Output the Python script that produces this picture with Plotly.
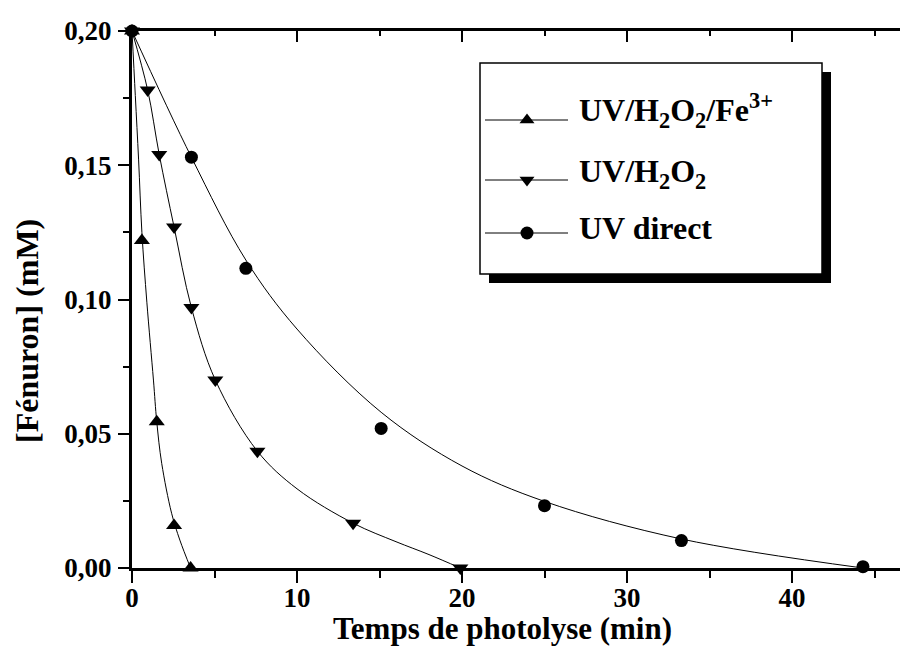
import plotly.graph_objects as go

# points mesurés (temps en min, concentration en mM)
t_fe = [0, 0.6, 1.5, 2.55, 3.55]
c_fe = [0.200, 0.122, 0.0545, 0.0158, 0.0]
t_h2o2 = [0, 0.95, 1.65, 2.55, 3.6, 5.05, 7.6, 13.4, 19.9]
c_h2o2 = [0.200, 0.178, 0.154, 0.127, 0.097, 0.070, 0.0435, 0.0167, 0.0]
t_uv = [0, 3.6, 6.9, 15.1, 25.0, 33.3, 44.3]
c_uv = [0.200, 0.153, 0.1116, 0.052, 0.0232, 0.0102, 0.0005]

# courbes d'ajustement
fit_t_fe = [0, 0.2, 0.4, 0.6, 0.9, 1.3, 1.5, 1.8, 2.4, 2.9, 3.55]
fit_c_fe = [0.200, 0.176, 0.152, 0.125, 0.099, 0.070, 0.0545, 0.039, 0.0204, 0.0104, 0.0]
fit_t_h2o2 = [0, 0.95, 1.65, 2.55, 3.6, 5.05, 7.6, 10, 13.4, 16, 18, 19.9]
fit_c_h2o2 = [0.200, 0.178, 0.154, 0.127, 0.097, 0.070, 0.0435, 0.0295, 0.0167, 0.0098, 0.0050, 0.0]
fit_t_uv = [0, 3.6, 6.9, 10, 15.1, 20, 25, 33.3, 44.3]
fit_c_uv = [0.200, 0.153, 0.1147, 0.089, 0.058, 0.038, 0.0248, 0.0108, 0.0]

legend_labels = ["UV/H<sub>2</sub>O<sub>2</sub>/Fe<sup>3+</sup>",
                 "UV/H<sub>2</sub>O<sub>2</sub>",
                 "UV direct"]
legend_symbols = ["triangle-up", "triangle-down", "circle"]

FONT = "Liberation Serif"
# la page a une marge de 8 px : la figure occupe 900x646
W, H = 900, 646
L, R, T, B = 124, 0, 23, 86
PW, PH = W - L - R, H - T - B
OFF = 8


# pixel de l'image de référence -> coordonnées "paper"
def px_x(p):
    return (p - OFF - L) / PW


def px_y(p):
    return (H - B - (p - OFF)) / PH


fig = go.Figure()

series = [(t_fe, c_fe, fit_t_fe, fit_c_fe, "triangle-up", 14),
          (t_h2o2, c_h2o2, fit_t_h2o2, fit_c_h2o2, "triangle-down", 14),
          (t_uv, c_uv, fit_t_uv, fit_c_uv, "circle", 13)]

for t, c, ft, fc, sym, sz in series:
    fig.add_trace(go.Scatter(x=ft, y=fc, mode='lines', line=dict(color='black', width=1, shape='spline'),
                             showlegend=False, hoverinfo='skip'))
    fig.add_trace(go.Scatter(x=t, y=c, mode='markers', marker=dict(symbol=sym, size=sz, color='black'),
                             cliponaxis=False, showlegend=False))

# axes secondaires (haut / droite) pour les graduations intérieures
fig.add_trace(go.Scatter(x=[None], y=[None], xaxis='x2', yaxis='y', showlegend=False, hoverinfo='skip'))
fig.add_trace(go.Scatter(x=[None], y=[None], xaxis='x', yaxis='y2', showlegend=False, hoverinfo='skip'))

# légende dessinée à la main
rows_y = [120, 180, 233]
fig.add_trace(go.Scatter(x=[px_x(527)] * 3, y=[px_y(r) for r in rows_y], xaxis='x3', yaxis='y3',
                         mode='markers', marker=dict(symbol=legend_symbols, size=13, color='black'),
                         cliponaxis=False, showlegend=False, hoverinfo='skip'))

shapes = [
    dict(type='rect', xref='paper', yref='paper', x0=px_x(489), x1=px_x(831), y0=px_y(283), y1=px_y(72),
         fillcolor='black', line=dict(width=0), layer='below'),
    dict(type='rect', xref='paper', yref='paper', x0=px_x(480), x1=px_x(822), y0=px_y(274), y1=px_y(63),
         fillcolor='white', line=dict(color='black', width=1.5), layer='below'),
]
for r in rows_y:
    shapes.append(dict(type='line', xref='paper', yref='paper', x0=px_x(485), x1=px_x(568),
                       y0=px_y(r), y1=px_y(r), line=dict(color='black', width=1), layer='below'))

text_y = [110, 173, 228]
annotations = []
for lab, ty in zip(legend_labels, text_y):
    annotations.append(dict(text=lab, xref='paper', yref='paper', x=px_x(577), y=px_y(ty),
                            xanchor='left', yanchor='middle', showarrow=False,
                            font=dict(family=FONT, size=32, color='black', weight='bold')))

annotations.append(dict(text="Temps de photolyse (min)", xref='paper', yref='paper', x=px_x(502), y=px_y(628),
                        xanchor='center', yanchor='middle', showarrow=False,
                        font=dict(family=FONT, size=31, color='black', weight='bold')))
annotations.append(dict(text="[Fénuron] (mM)", xref='paper', yref='paper', x=px_x(27), y=px_y(331),
                        xanchor='center', yanchor='middle', showarrow=False, textangle=-90,
                        font=dict(family=FONT, size=32, color='black', weight='bold')))

tickfont = dict(family=FONT, size=27, color='black', weight='bold')
XR = [0, PW / 16.5]

fig.update_layout(
    width=W, height=H,
    margin=dict(l=L, r=R, t=T, b=B),
    paper_bgcolor='white', plot_bgcolor='white',
    separators=', ',
    showlegend=False,
    shapes=shapes,
    annotations=annotations,
    xaxis=dict(range=XR, showline=True, linewidth=3, linecolor='black', ticks='outside', ticklen=12,
               tickwidth=2, tickcolor='black', tick0=0, dtick=10, tickfont=tickfont,
               minor=dict(ticks='outside', ticklen=7, tickwidth=2, tickcolor='black', tick0=0, dtick=5),
               showgrid=False, zeroline=False, ticklabelstandoff=-8),
    yaxis=dict(range=[0, 0.2], showline=True, linewidth=3, linecolor='black', ticks='outside', ticklen=11,
               tickwidth=2, tickcolor='black', tick0=0, dtick=0.05, tickformat='.2f', tickfont=tickfont,
               minor=dict(ticks='outside', ticklen=6, tickwidth=2, tickcolor='black', tick0=0, dtick=0.025),
               showgrid=False, zeroline=False, ticklabelstandoff=1),
    xaxis2=dict(overlaying='x', side='top', anchor='y', range=XR, showline=True, linewidth=3,
                linecolor='black', ticks='inside', ticklen=11, tickwidth=2, tickcolor='black', tick0=0,
                dtick=10, minor=dict(ticks='inside', ticklen=5, tickwidth=2, tickcolor='black', tick0=0, dtick=5),
                showticklabels=False, showgrid=False, zeroline=False),
    yaxis2=dict(overlaying='y', side='right', anchor='x', range=[0, 0.2], showline=False, ticks='inside',
                ticklen=5, tickwidth=2, tickcolor='black', tick0=0, dtick=0.05,
                showticklabels=False, showgrid=False, zeroline=False),
    xaxis3=dict(overlaying='x', anchor='y3', range=[0, 1], visible=False),
    yaxis3=dict(overlaying='y', anchor='x3', range=[0, 1], visible=False),
)

fig.write_html("out.html")
